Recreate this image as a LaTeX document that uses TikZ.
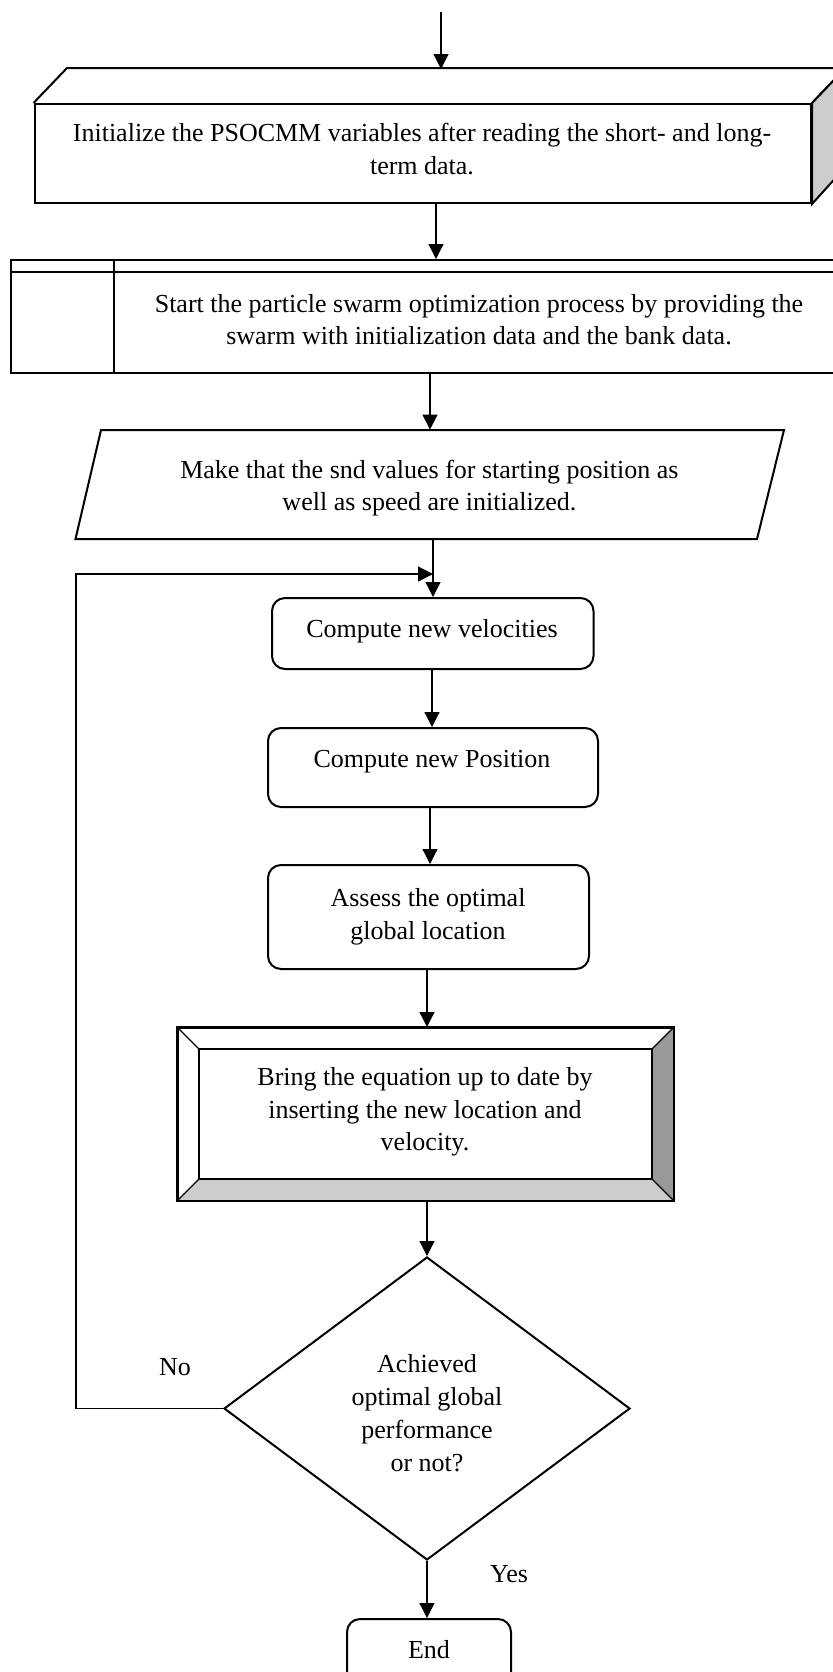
\documentclass[tikz,border=0pt]{standalone}
\usepackage{fontspec}
\setmainfont{Liberation Serif}
\usetikzlibrary{arrows.meta,calc,shapes.geometric}
\definecolor{sidegray}{HTML}{CCCCCC}
\definecolor{bevdark}{HTML}{999999}
\definecolor{bevlight}{HTML}{CCCCCC}
\newcommand\myfs{\fontsize{13pt}{16.3pt}\selectfont}
\begin{document}
\begin{tikzpicture}[x=0.5pt,y=-0.5pt,
  shapebox/.style={draw, line width=1pt, inner sep=0pt},
  rbox/.style={shapebox, rounded corners=6.5pt},
  txt/.style={inner sep=0pt, align=center, font=\myfs},
  arr/.style={line width=0.6pt, -{Triangle[length=7.5pt,width=7.5pt]}},
  thick line/.style={line width=1pt, line join=miter}]
\useasboundingbox (0,0) rectangle (833,1672);
\clip (0,0) rectangle (833,1672);
\fill[white] (0,0) rectangle (833,1672);

% column coordinates
\coordinate (cA) at (436,0);
\coordinate (cB) at (430,0);
\coordinate (cC) at (433,0);
\coordinate (cD) at (432,0);
\coordinate (cF) at (427,0);

% top arrow
\coordinate (s0) at (441,12);
\coordinate (t1) at (441,69);

% 1: 3D box
\node[shapebox, minimum width=388.25pt, minimum height=49.5pt] (n1) at (422.75,153.5) {};
\draw[thick line] (n1.north west) -- ++(33.5,-35) -- ($(n1.north east)+(33.5,-35)$) -- (n1.north east);
\filldraw[thick line, fill=sidegray] (n1.north east) -- ++(33.5,-35) -- ++(0,99) -- (n1.south east) -- cycle;
\node[txt] (n1t) at (422,149) {Initialize the PSOCMM variables after reading the short- and long-\\term data.};

% 2: predefined process
\node[shapebox, minimum width=416.2pt, minimum height=56.5pt] (n2) at (426.8,316.5) {};
\draw[thick line] ([yshift=-6.5pt]n2.north west) -- ([yshift=-6.5pt]n2.north east);
\draw[thick line] ([xshift=52.2pt]n2.north west) -- ([xshift=52.2pt]n2.south west);
\node[txt] (n2t) at (479,319.5) {Start the particle swarm optimization process by providing the\\swarm with initialization data and the bank data.};

% 3: parallelogram
\node[txt, minimum height=54.5pt, minimum width=340pt] (n3) at (429.4,484.5) {};
\draw[thick line] (101,430) -- (784,430) -- (757,539) -- (75.5,539) -- cycle;
\node[txt] (n3t) at (429.4,488) {Make that the snd values for starting position as\\well as speed are initialized.};

% 4-6: rounded boxes
\node[rbox, minimum width=160.75pt, minimum height=35.5pt] (n4) at (432.75,633.5) {};
\node[txt] (n4t) at (432,631.5) {Compute new velocities};
\node[rbox, minimum width=165pt, minimum height=39.5pt] (n5) at (433,767.5) {};
\node[txt] (n5t) at (432,762) {Compute new Position};
\node[rbox, minimum width=160.5pt, minimum height=52pt] (n6) at (428.5,917) {};
\node[txt] (n6t) at (428,917) {Assess the optimal\\global location};

% 7: bevel box
\node[shapebox, minimum width=247.5pt, minimum height=86pt] (n7) at (425.5,1114) {};
\coordinate (i1) at ($(n7.north west)+(22,22)$);
\coordinate (i2) at ($(n7.north east)+(-22,22)$);
\coordinate (i3) at ($(n7.south east)+(-22,-22)$);
\coordinate (i4) at ($(n7.south west)+(22,-22)$);
\fill[bevdark] (n7.north east) -- (n7.south east) -- (i3) -- (i2) -- cycle;
\fill[bevlight] (n7.south west) -- (n7.south east) -- (i3) -- (i4) -- cycle;
\draw[line width=0.6pt] (n7.north west) -- (i1) (n7.north east) -- (i2) (n7.south east) -- (i3) (n7.south west) -- (i4);
\draw[thick line] (n7.north west) rectangle (n7.south east);
\draw[thick line] (i1) rectangle (i3);
\node[txt] (n7t) at (425,1112) {Bring the equation up to date by\\inserting the new location and\\velocity.};

% decision
\node[draw, diamond, line width=1pt, inner sep=0pt, minimum width=203pt, minimum height=151.5pt] (nd) at (427,1408.5) {};
\node[txt, font=\fontsize{13pt}{16.5pt}\selectfont] (ndt) at (427,1413) {Achieved\\optimal global\\performance\\or not?};

% end
\node[rbox, minimum width=82pt, minimum height=35.5pt] (nend) at (429,1654.5) {};
\node[txt] (nendt) at (429,1650) {End};

% labels
\node[txt] (lno) at (175,1367) {No};
\node[txt] (lyes) at (509,1574) {Yes};

% connectors
\coordinate (lp) at (76,574);
\coordinate (j) at (433,574);
\draw[arr] (s0) -- (t1);
\draw[arr] (n1.south -| cA) -- (n2.north -| cA);
\draw[arr] (n2.south -| cB) -- (n3.north -| cB);
\draw[arr] (n3.south -| cC) -- (n4.north -| cC);
\draw[arr] (n4.south -| cD) -- (n5.north -| cD);
\draw[arr] (n5.south -| cB) -- (n6.north -| cB);
\draw[arr] (n6.south -| cF) -- (n7.north -| cF);
\draw[arr] (n7.south -| nd.north) -- (nd.north);
\draw[arr] (nd.south) -- (nd.south |- nend.north);
\draw[arr] (nd.west) -| (lp) -- (j);
\end{tikzpicture}
\end{document}
